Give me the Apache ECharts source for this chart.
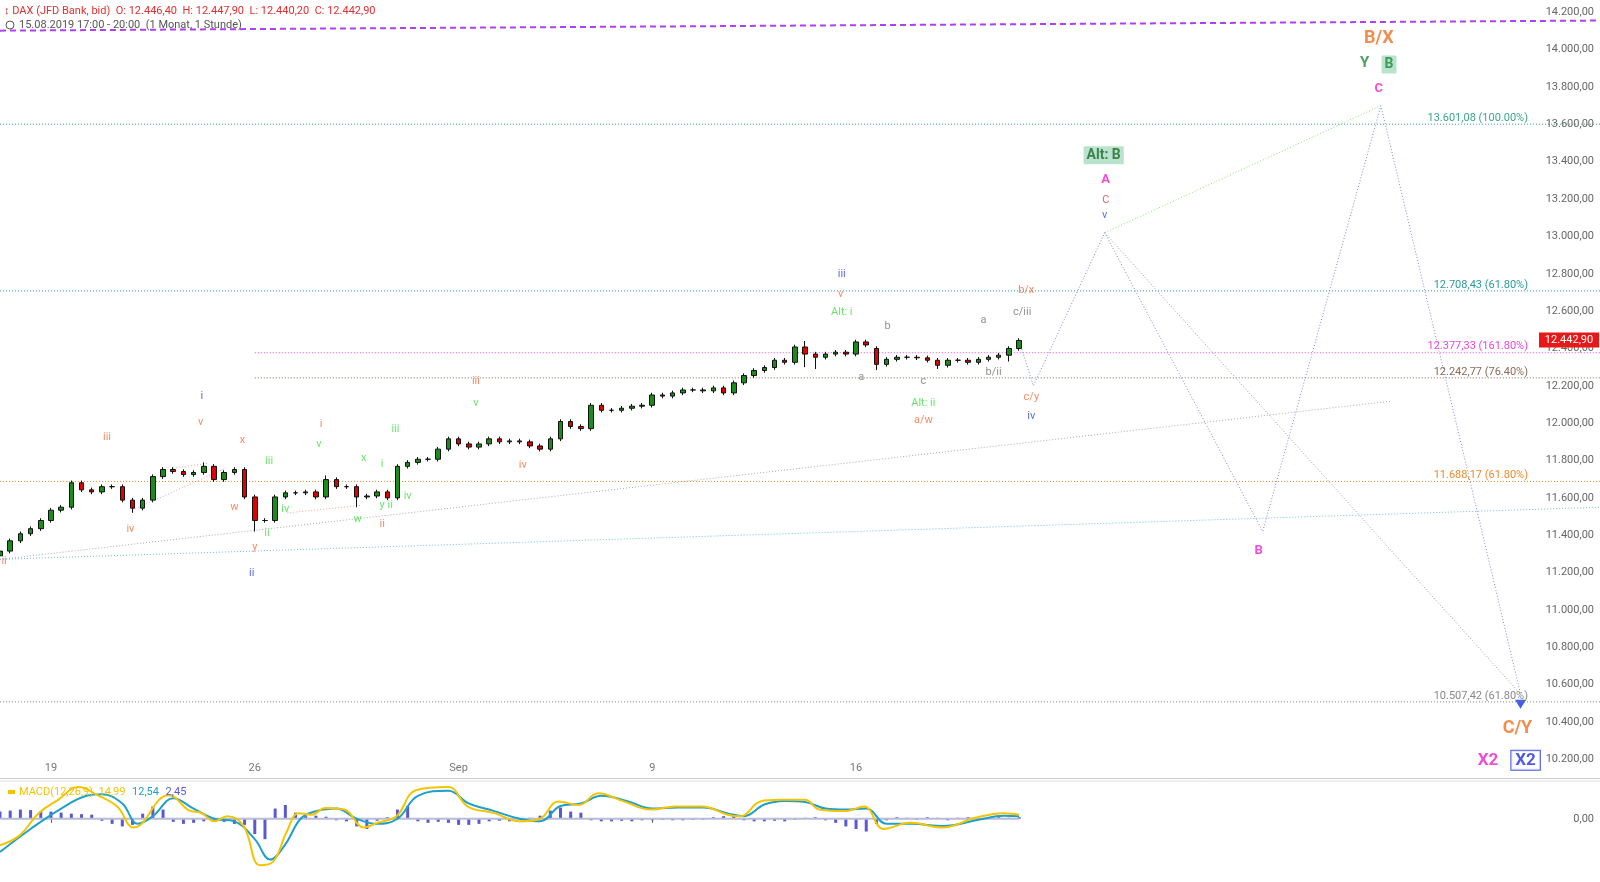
<!DOCTYPE html>
<html><head><meta charset="utf-8">
<script src="https://cdn.jsdelivr.net/npm/echarts@6/dist/echarts.min.js"></script>
<style>html,body{margin:0;padding:0;background:#fff}#c{width:1600px;height:882px}</style>
</head><body><div id="c"></div>
<script>
// ---------- DATA ----------
const slotCount = 158;
const dateTicks = {5:'19',25:'26',45:'Sep',64:'9',84:'16'};
const closes = [11315,11370,11408,11435,11479,11534,11550,11681,11643,11632,11660,11660,11588,11545,11588,11714,11752,11741,11725,11736,
11769,11698,11736,11752,11605,11479,11479,11605,11627,11627,11632,11605,11698,11660,11660,11605,11610,11632,11600,11769,
11790,11807,11807,11861,11916,11889,11872,11889,11916,11900,11905,11900,11878,11861,11916,12009,11982,11971,12096,12069,
12069,12080,12091,12096,12151,12145,12162,12178,12178,12173,12189,12162,12216,12255,12282,12298,12337,12326,12408,12370,
12353,12370,12380,12370,12435,12419,12315,12342,12353,12353,12350,12337,12310,12337,12337,12326,12342,12353,12364,12400,12443];
const firstOpen = 11290;
const gapOpens = {86:12400};
const wickExtremes = {13:[11520,null],20:[null,11790],25:[11420,null],32:[null,11720],35:[11550,null],39:[null,11780],79:[12300,12440],80:[12290,null],86:[12285,null],92:[12290,null],99:[12330,null]};
const levels = [
  {v:13601.08, txt:'13.601,08 (100.00%)', c:'#3aa58a', from:0},
  {v:12708.43, txt:'12.708,43 (61.80%)', c:'#2a9a9a', from:0},
  {v:12377.33, txt:'12.377,33 (161.80%)', c:'#ee44dd', from:25},
  {v:12242.77, txt:'12.242,77 (76.40%)', c:'#8a6a5a', from:25},
  {v:11688.17, txt:'11.688,17 (61.80%)', c:'#f08a30', from:0},
  {v:10507.42, txt:'10.507,42 (61.80%)', c:'#888888', from:0}
];
const purpleLine = [[0,14102],[157,14156]];
const grayTrend = [[0,11271],[136.5,12118]];
const blueTrend = [[0,11271],[157,11550]];
const pinkLines = [[[13,11535],[22.2,11760]],[[17,11760],[20.5,11785]],[[28.2,11520],[35.5,11560]]];
const projection = [[100,12443],[101.4,12200],[108.4,13020],[123.9,11420],[135.5,13700],[149.2,10550]];
const greenProj = [[108.4,13020],[135.5,13700]];
const grayProj = [[108.4,13020],[149.2,10550]];
const waveLabels = [
 ['ii',0.4,11260,'#e07050'],['iii',10.5,11927,'#f07040'],['iv',12.8,11430,'#f07040'],['v',19.7,12003,'#f07040'],
 ['x',23.8,11910,'#f07040'],['w',23,11550,'#f07040'],['y',25,11337,'#f07040'],['i',31.5,11993,'#f07040'],
 ['ii',37.5,11457,'#f07040'],['iii',46.7,12222,'#f07040'],['iv',51.3,11774,'#f07040'],['v',82.5,12692,'#f07040'],
 ['a/w',90.6,12014,'#f07040'],['b/x',100.7,12714,'#f07040'],['c/y',101.2,12140,'#f07040'],
 ['i',19.8,12146,'#3548e0'],['ii',24.7,11195,'#3548e0'],['iii',82.6,12796,'#3548e0'],['iv',101.2,12036,'#3548e0'],['v',108.4,13113,'#3548e0'],
 ['iii',26.4,11796,'#44dd44'],['iv',28,11539,'#44dd44'],['ii',26.2,11408,'#44dd44'],['v',31.3,11889,'#44dd44'],
 ['x',35.7,11812,'#44dd44'],['w',35.1,11484,'#44dd44'],['y ii',37.9,11561,'#44dd44'],['i',37.5,11780,'#44dd44'],
 ['iii',38.8,11965,'#44dd44'],['iv',40,11610,'#44dd44'],['v',46.7,12107,'#44dd44'],['Alt: i',82.6,12593,'#44dd44'],['Alt: ii',90.6,12107,'#44dd44'],
 ['b',87.1,12517,'#777'],['a',84.5,12244,'#777'],['c',90.6,12227,'#777'],['a',96.5,12550,'#777'],['c/iii',100.3,12593,'#777'],['b/ii',97.5,12271,'#777'],
 ['C',108.5,13195,'#ee3355']
];
const bigLabels = [
 ['A',108.5,13304,'#ee22cc',13,null],['B',123.5,11315,'#ee22cc',13,null],['C',135.3,13790,'#ee22cc',13,null],
 ['X2',146,10195,'#ee22cc',17,null],['B/X',135.3,14058,'#f07020',18,null],['Y',133.9,13927,'#1e8a3a',15,null],
 ['C/Y',148.9,10364,'#f07020',18,null],
 ['B',136.3,13921,'#1e8a3a',14,'green'],['Alt: B',108.3,13435,'#1e6a2a',14,'green'],['X2',149.7,10195,'#2233dd',17,'blue']
];
const macdLine = [[0,-52],[1.9,-33],[3.8,11],[5.7,37],[7.7,62],[9.6,46],[11.5,24],[13.1,-17],[14,-8],[15.6,37],[16.6,46],[18.5,17],[19.8,11],[21,-5],[22.3,5],[23.9,-14],[25.5,-91],[26.8,-84],[28.1,-27],[29.3,11],[30.6,8],[31.9,21],[33.8,18],[35.7,-17],[37,-8],[38.9,5],[40.8,56],[44,62],[45.9,24],[48.5,11],[51,-5],[52.9,-1],[54.8,34],[56.8,27],[58.7,50],[61.2,34],[63.8,18],[66.3,24],[68.9,24],[71.4,8],[72.7,5],[74.6,34],[76.5,37],[79,37],[80.4,18],[82.9,15],[84.8,24],[86.7,-20],[89.3,-8],[92.5,-17],[95.7,2],[98.5,11],[100,8]];
const signalLine = [[0,-65],[3,-20],[6,20],[8.5,45],[10,48],[12,30],[13.5,-10],[15,5],[17,40],[19,20],[21,0],[23,-5],[25,-40],[26.5,-80],[28,-50],[29.5,0],[31,15],[33,20],[35,0],[37,-10],[39,0],[41,45],[44,55],[46,30],[48.5,15],[51,0],[53,-5],[55,25],[57,30],[59,45],[61.5,35],[64,20],[66.5,22],[69,22],[71.5,10],[73,5],[75,28],[77,35],[79,33],[81,20],[83,18],[85,20],[87,-10],[89.5,-10],[92.5,-14],[96,-2],[98.5,6],[100,5]];
const histogram = [14,16,18,17,15,14,12,10,9,8,-4,-10,-15,-12,10,24,18,-6,-10,-8,-5,-4,-6,-10,-12,-30,-40,20,27,12,5,6,4,-3,-5,-15,-20,-4,3,18,25,-5,-8,-6,-8,-12,-12,-10,-5,-4,-5,-2,2,6,16,22,14,12,-3,-5,-5,-4,-5,-3,-3,-2,-3,-3,-2,-2,3,5,6,-3,-5,-5,-4,-5,-2,2,3,-3,-8,-15,-20,-25,-10,-3,3,2,-2,3,2,-3,2,3,-2,2,3,2,3];
const yTicks = [10200,10400,10600,10800,11000,11200,11400,11600,11800,12000,12200,12400,12600,12800,13000,13200,13400,13600,13800,14000,14200];
const lastPrice = 12442.90;

// ---------- BUILD ----------
function de(v){const s=v.toFixed(2).split('.');return s[0].replace(/\B(?=(\d{3})+(?!\d))/g,'.')+','+s[1];}
const cats = Array.from({length:slotCount},(_,i)=>String(i));
const candles = closes.map((c,i)=>{
  const o = gapOpens[i]!==undefined?gapOpens[i]:(i===0?firstOpen:closes[i-1]);
  let lo=Math.min(o,c)-12, hi=Math.max(o,c)+12;
  const w=wickExtremes[i]; if(w){if(w[0]!==null)lo=w[0]; if(w[1]!==null)hi=w[1];}
  return [o,c,lo,hi];
});
const dotted = (data,color,w)=>({type:'line',xAxisIndex:1,yAxisIndex:0,data,symbol:'none',silent:true,lineStyle:{color,width:w||1,type:[1,2]},z:3});
const series = [];
series.push({type:'candlestick',xAxisIndex:0,yAxisIndex:0,data:candles,barWidth:5,
  itemStyle:{color:'#1a8c1a',color0:'#e00000',borderColor:'#111',borderColor0:'#111',borderWidth:1},z:5});
series.push({type:'line',xAxisIndex:1,yAxisIndex:0,data:purpleLine,symbol:'none',silent:true,lineStyle:{color:'#b040f0',width:2,type:[6,4]}});
levels.forEach(l=>{
  series.push({type:'line',xAxisIndex:1,yAxisIndex:0,data:[[l.from,l.v],[157,l.v]],symbol:'none',silent:true,
    lineStyle:{color:l.c,width:1,type:[1,2]},
    markPoint:{symbol:'circle',symbolSize:0,data:[{coord:[157,l.v],label:{show:true,formatter:l.txt,color:l.c,fontSize:11,fontFamily:'Roboto',position:'left',offset:[-67,-6]}}]}
  });
});
series.push(dotted(grayTrend,'#aaaaaa'));
series.push(dotted(blueTrend,'#6fb8f0'));
pinkLines.forEach(p=>series.push(dotted(p,'#f4a0a0')));
series.push(dotted(grayProj,'#9a9aa8'));
series.push(dotted(greenProj,'#88e070'));
series.push(dotted(projection,'#7a84e8'));
series.push({type:'scatter',xAxisIndex:1,yAxisIndex:0,symbol:'triangle',symbolRotate:180,symbolSize:[11,9],itemStyle:{color:'#1133ee'},data:[[149.2,10495]]});
series.push({type:'scatter',xAxisIndex:1,yAxisIndex:0,symbolSize:0,silent:true,z:10,
  data:waveLabels.map(w=>({value:[w[1],w[2]],label:{show:true,formatter:w[0],color:w[3],fontSize:11,fontFamily:'Roboto',position:'inside'}}))});
series.push({type:'scatter',xAxisIndex:1,yAxisIndex:0,symbolSize:0,silent:true,z:11,
  data:bigLabels.map(w=>{
    const lab={show:true,formatter:w[0],color:w[3],fontSize:w[4],fontWeight:'bold',fontFamily:'Roboto',position:'inside'};
    if(w[5]==='green'){lab.backgroundColor='#a8dcc0';lab.padding=[2,3];lab.borderRadius=1;}
    if(w[5]==='blue'){lab.backgroundColor='#fff';lab.borderColor='#2233dd';lab.borderWidth=1;lab.padding=[1,4];}
    return {value:[w[1],w[2]],label:lab};
  })});
// MACD
series.push({type:'bar',xAxisIndex:3,yAxisIndex:1,data:histogram.map((v,i)=>[i,v]),barWidth:3,itemStyle:{color:'#5a5ad0'},silent:true});
series.push({type:'line',xAxisIndex:2,yAxisIndex:1,data:[[0,0],[100,0]],symbol:'none',lineStyle:{color:'#b8bcd8',width:2},silent:true});
series.push({type:'line',xAxisIndex:2,yAxisIndex:1,data:signalLine,symbol:'none',smooth:0.4,lineStyle:{color:'#1fa0c8',width:2},silent:true});
series.push({type:'line',xAxisIndex:2,yAxisIndex:1,data:macdLine,symbol:'none',smooth:0.4,lineStyle:{color:'#f5c400',width:2},silent:true});

const chart = echarts.init(document.getElementById('c'));
chart.setOption({
  animation:false,
  grid:[{left:0,right:0,top:3,height:775},{left:0,right:0,top:782,height:96}],
  xAxis:[
    {type:'category',gridIndex:0,data:cats,boundaryGap:false,
     axisLine:{lineStyle:{color:'#ccc'}},axisTick:{show:false},
     axisLabel:{inside:true,margin:4,color:'#777',fontSize:11,fontFamily:'Roboto',interval:(i)=>dateTicks[i]!==undefined,formatter:(v,i)=>dateTicks[i]||''}},
    {type:'value',gridIndex:0,min:0,max:157,show:false},
    {type:'value',gridIndex:1,min:0,max:157,axisLine:{show:false},splitLine:{show:false},
     axisTick:{show:true,inside:false,length:4,lineStyle:{color:'#555'},customValues:[5,25,45,64,84]},axisLabel:{show:false}},
    {type:'category',gridIndex:1,data:cats,boundaryGap:false,show:false}
  ],
  yAxis:[
    {type:'value',gridIndex:0,position:'right',min:10100,max:14250,splitLine:{show:false},
     axisLine:{show:false},axisTick:{show:true,inside:true,length:3,lineStyle:{color:'#888'},customValues:yTicks},
     axisLabel:{inside:true,margin:6,color:'#666',fontSize:11,fontFamily:'Roboto',customValues:yTicks,formatter:v=>de(v)}},
    {type:'value',gridIndex:1,position:'right',min:-116,max:72,splitLine:{show:false},axisLine:{show:false},
     axisTick:{show:true,inside:true,length:3,customValues:[0]},
     axisLabel:{inside:true,margin:6,color:'#666',fontSize:11,fontFamily:'Roboto',customValues:[0],formatter:()=>'0,00'}}
  ],
  series
});
const py = chart.convertToPixel({gridIndex:0},[0,lastPrice])[1];
chart.setOption({graphic:[
  {type:'line',shape:{x1:0,y1:781,x2:1600,y2:781},style:{stroke:'#ddd',lineWidth:1}},
  {type:'rect',shape:{x:1539,y:py-8,width:60,height:15},style:{fill:'#e81818'},z:50},
  {type:'text',x:1569,y:py,style:{text:de(lastPrice),fill:'#fff',font:'11px Roboto',align:'center',verticalAlign:'middle'},z:51},
  {type:'text',x:4,y:11,style:{text:'\u2195 DAX (JFD Bank, bid)  O: 12.446,40  H: 12.447,90  L: 12.440,20  C: 12.442,90',fill:'#e03030',font:'11px Roboto',verticalAlign:'middle'},z:50},
  {type:'circle',shape:{cx:10,cy:25,r:4},style:{fill:'none',stroke:'#555',lineWidth:1},z:50},
  {type:'text',x:19,y:25,style:{text:'15.08.2019 17:00 - 20:00  (1 Monat, 1 Stunde)',fill:'#555',font:'11px Roboto',verticalAlign:'middle'},z:50},
  {type:'rect',shape:{x:8,y:790,width:7,height:4},style:{fill:'#f5c400'},z:50},
  {type:'text',x:19,y:792,style:{rich:{a:{fill:'#f5c400',font:'11px Roboto'},b:{fill:'#1fa0c8',font:'11px Roboto'},c:{fill:'#5a5ad0',font:'11px Roboto'}},text:'{a|MACD(12,26,9)  14,99}  {b|12,54}  {c|2,45}',verticalAlign:'middle'},z:50}
]});
</script></body></html>
